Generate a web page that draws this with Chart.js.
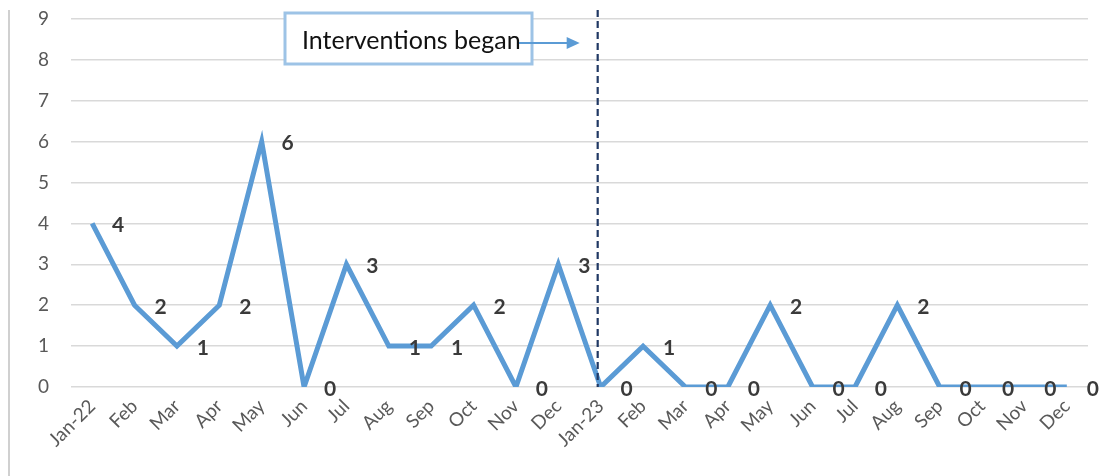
<!DOCTYPE html>
<html>
<head>
<meta charset="utf-8">
<script src="https://cdn.jsdelivr.net/npm/chart.js@4/dist/chart.umd.min.js"></script>
<style>
  html, body { margin: 0; padding: 0; background: #fff; }
  #wrap { position: relative; width: 1114px; height: 476px; }
  #edge { position: absolute; left: 8px; top: 10px; width: 0; height: 466px; border-left: 2px solid #d0d0d0; }
  canvas { position: absolute; left: 0; top: 0; }
</style>
</head>
<body>
<div id="wrap">
  <canvas id="c" width="1114" height="476"></canvas>
  <div id="edge"></div>
</div>
<script>
// Monthly counts, Jan 2022 – Dec 2023
const months = ['Jan-22','Feb','Mar','Apr','May','Jun','Jul','Aug','Sep','Oct','Nov','Dec',
                'Jan-23','Feb','Mar','Apr','May','Jun','Jul','Aug','Sep','Oct','Nov','Dec'];
const counts = [4, 2, 1, 2, 6, 0, 3, 1, 1, 2, 0, 3,
                0, 1, 0, 0, 2, 0, 0, 2, 0, 0, 0, 0];
const yTicks = [0, 1, 2, 3, 4, 5, 6, 7, 8, 9];
const interventionIndex = 12;
const interventionText = 'Interventions began';

const FONT = "Lato, 'Open Sans', sans-serif";

// Bold value labels placed to the right of each point
const valueLabels = {
  id: 'valueLabels',
  afterDatasetsDraw(chart) {
    const ctx = chart.ctx;
    const meta = chart.getDatasetMeta(0);
    ctx.save();
    ctx.font = "bold 21px " + FONT;
    ctx.fillStyle = '#3a3a3a';
    ctx.textAlign = 'center';
    ctx.textBaseline = 'middle';
    meta.data.forEach((pt, i) => {
      ctx.fillText(String(counts[i]), pt.x + 26, pt.y + 2);
    });
    ctx.restore();
  }
};

// Dashed marker line and the callout box with its arrow
const intervention = {
  id: 'intervention',
  afterDatasetsDraw(chart) {
    const ctx = chart.ctx;
    const x = chart.scales.x.getPixelForValue(interventionIndex) - 3;
    const bottom = chart.chartArea.bottom;
    ctx.save();
    ctx.strokeStyle = '#203864';
    ctx.lineWidth = 2.2;
    ctx.setLineDash([7, 4]);
    ctx.beginPath();
    ctx.moveTo(x, 10);
    ctx.lineTo(x, bottom);
    ctx.stroke();
    ctx.setLineDash([]);

    // callout box
    ctx.fillStyle = '#ffffff';
    ctx.fillRect(285, 13, 247, 51);
    ctx.strokeStyle = '#9dc3e6';
    ctx.lineWidth = 3;
    ctx.strokeRect(285, 13, 247, 51);

    ctx.font = "25px " + FONT;
    ctx.fillStyle = '#111111';
    ctx.textAlign = 'left';
    ctx.textBaseline = 'alphabetic';
    ctx.fillText(interventionText, 302, 49);

    // arrow
    const tip = x - 18;
    ctx.strokeStyle = '#5b9bd5';
    ctx.fillStyle = '#5b9bd5';
    ctx.lineWidth = 2;
    ctx.beginPath();
    ctx.moveTo(519, 43);
    ctx.lineTo(tip - 10, 43);
    ctx.stroke();
    ctx.beginPath();
    ctx.moveTo(tip, 43);
    ctx.lineTo(tip - 13, 37);
    ctx.lineTo(tip - 13, 49);
    ctx.closePath();
    ctx.fill();
    ctx.restore();
  }
};

new Chart(document.getElementById('c'), {
  type: 'line',
  data: {
    labels: months,
    datasets: [{
      data: counts,
      borderColor: '#5b9bd5',
      borderWidth: 5,
      pointRadius: 0,
      tension: 0,
      fill: false
    }]
  },
  options: {
    responsive: false,
    animation: false,
    layout: { padding: { top: 19, right: 26, left: 0, bottom: 0 } },
    plugins: { legend: { display: false }, tooltip: { enabled: false } },
    scales: {
      x: {
        offset: true,
        grid: { display: false, drawTicks: false },
        border: { display: false },
        ticks: {
          minRotation: 45, maxRotation: 45, autoSkip: false,
          padding: 8,
          color: '#595959',
          font: { family: FONT, size: 19 }
        },
        afterFit(scale) { scale.height = 89; scale.paddingTop = 0; scale.paddingBottom = 0; }
      },
      y: {
        min: 0, max: 9,
        afterBuildTicks(scale) { scale.ticks = yTicks.map(v => ({ value: v })); },
        grid: { color: '#d9d9d9', lineWidth: 1.5, drawTicks: false },
        border: { display: false },
        ticks: {
          padding: 22,
          color: '#595959',
          font: { family: FONT, size: 19 }
        },
        afterFit(scale) { scale.width = 71; scale.paddingTop = 0; scale.paddingBottom = 0; }
      }
    }
  },
  plugins: [valueLabels, intervention]
});
</script>
</body>
</html>
